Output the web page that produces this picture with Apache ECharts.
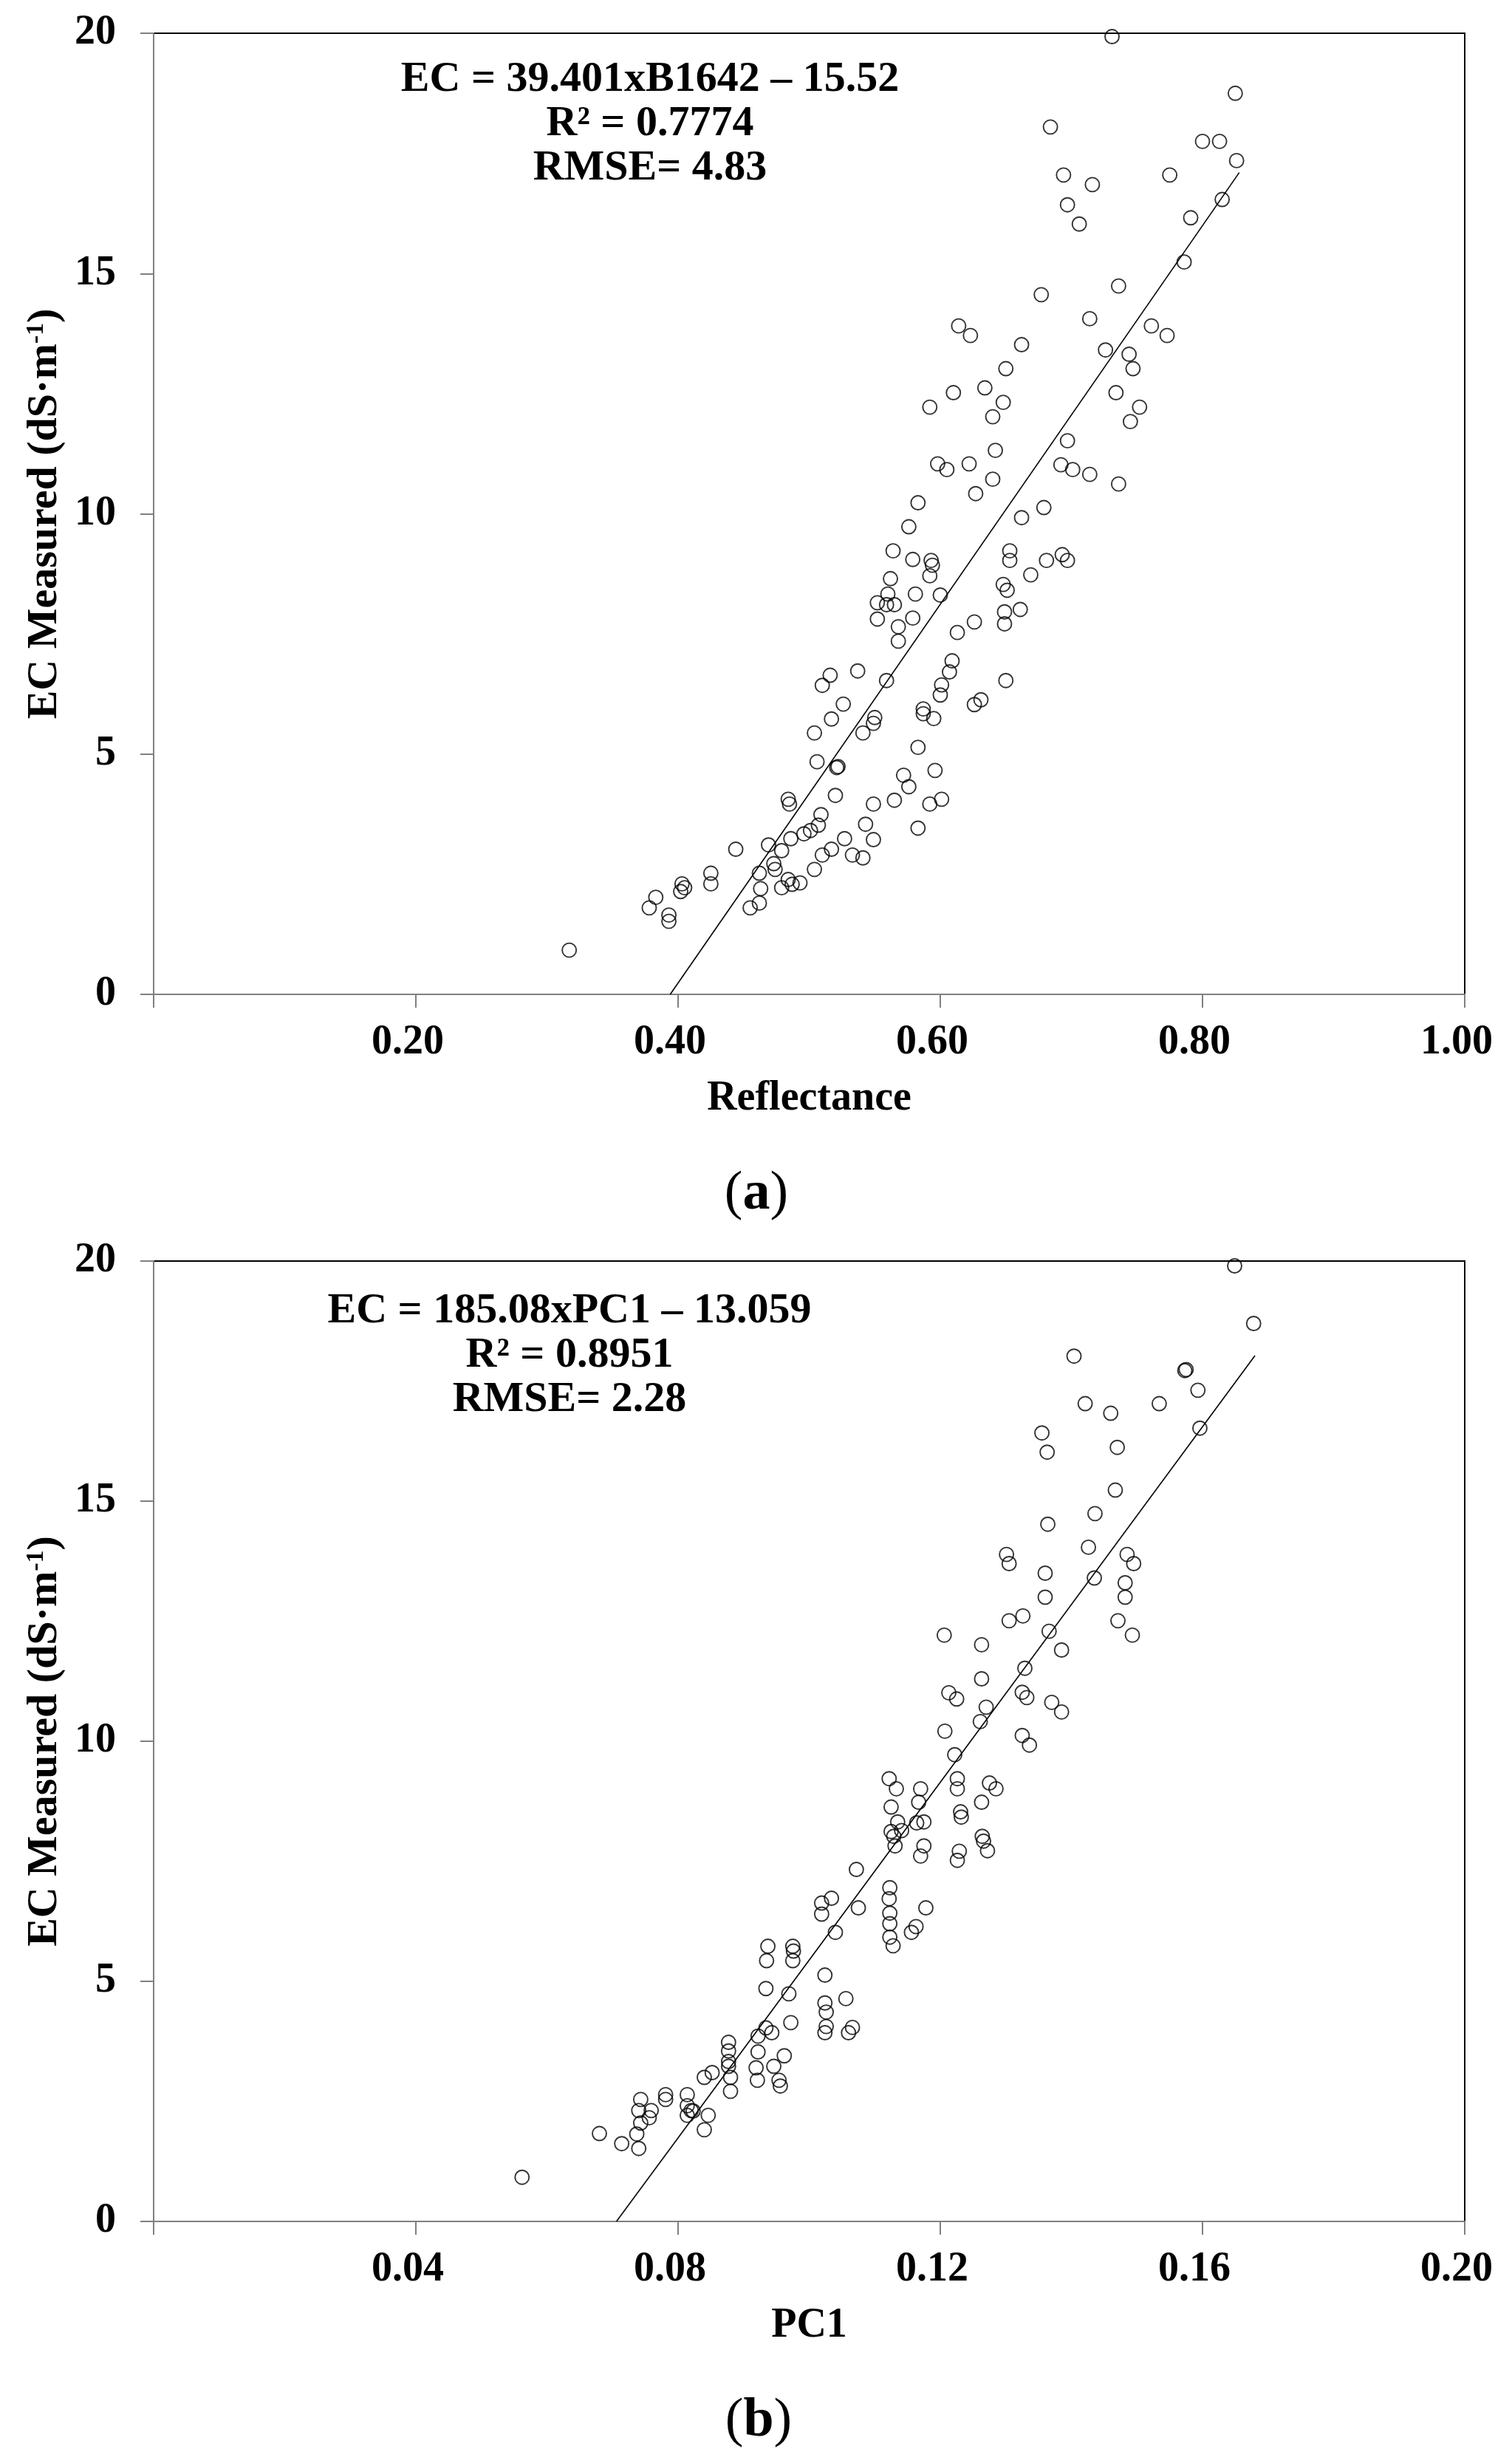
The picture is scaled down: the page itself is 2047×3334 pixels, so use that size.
<!DOCTYPE html>
<html>
<head>
<meta charset="utf-8">
<script src="https://cdn.jsdelivr.net/npm/echarts@6/dist/echarts.min.js"></script>
<style>
html,body{margin:0;padding:0;background:#fff;}
#chart{width:2047px;height:3334px;}
</style>
</head>
<body>
<div id="chart"></div>
<script>
// ---- Data (a): Reflectance (B1642) vs EC measured ----
const reflA = [0.317,0.378,0.383,0.393,0.393,0.402,0.403,0.405,0.425,0.425,0.444,0.455,0.462,0.462,0.463,0.469,0.473,0.474,0.479,0.479,
0.484,0.485,0.484,0.486,0.487,0.493,0.496,0.501,0.504,0.504,0.506,0.507,0.509,0.510,0.510,0.516,0.517,0.517,0.521,0.522,
0.520,0.526,0.527,0.533,0.537,0.541,0.541,0.543,0.549,0.550,0.549,0.549,0.552,0.552,0.559,0.559,0.560,0.562,0.564,0.565,
0.565,0.568,0.568,0.572,0.576,0.576,0.579,0.579,0.581,0.583,0.583,0.583,0.587,0.587,0.592,0.592,0.593,0.594,0.592,0.595,
0.596,0.598,0.600,0.600,0.601,0.601,0.605,0.607,0.609,0.610,0.613,0.614,0.622,0.623,0.626,0.626,0.627,0.631,0.634,0.640,
0.640,0.642,0.648,0.648,0.649,0.649,0.650,0.650,0.651,0.653,0.653,0.661,0.662,0.662,0.669,0.677,0.679,0.681,0.684,0.692,
0.693,0.694,0.697,0.697,0.697,0.701,0.706,0.714,0.714,0.716,0.726,0.731,0.734,0.736,0.736,0.744,0.745,0.747,0.752,0.761,
0.773,0.775,0.786,0.791,0.800,0.813,0.815,0.825,0.826];
const ecA = [0.92,1.80,2.02,1.65,1.52,2.14,2.30,2.22,2.52,2.30,3.02,1.80,1.90,2.52,2.20,3.11,2.72,2.60,2.22,2.99,
4.06,3.96,2.39,3.24,2.29,2.32,3.34,3.41,2.60,5.44,4.84,3.52,3.74,2.90,6.43,6.64,5.73,3.02,4.72,4.74,
4.14,6.04,3.24,2.90,6.73,5.44,2.84,3.54,3.96,5.76,5.64,3.22,8.15,7.81,8.11,6.53,8.33,8.65,9.23,8.11,
4.04,7.35,7.65,4.56,4.32,9.73,7.83,9.05,8.33,10.23,5.14,3.46,5.94,5.84,12.22,8.71,9.03,8.93,3.96,5.74,
4.66,11.04,8.31,6.23,6.44,4.06,10.92,6.71,6.94,12.52,7.53,13.91,11.04,13.71,6.03,7.75,10.42,6.13,12.62,12.02,
10.72,11.32,12.32,8.53,7.71,7.96,13.02,6.53,8.41,9.23,9.03,8.01,9.92,13.52,8.73,14.56,10.13,9.03,18.05,11.02,
9.15,17.05,11.52,9.03,16.43,10.92,16.03,14.06,10.82,16.85,13.41,19.93,12.52,10.62,14.74,13.32,11.92,13.02,12.22,13.91,
13.71,17.05,15.24,16.16,17.75,17.75,16.54,18.75,17.35];
const trendA = [[0.394, 0.0], [0.828, 17.10]];
const xTickLabelsA = ['', '0.20', '0.40', '0.60', '0.80', '1.00'];
const annotA = ['EC = 39.401xB1642 \u2013 15.52', 'R\u00b2 = 0.7774', 'RMSE= 4.83'];

// ---- Data (b): PC1 vs EC measured ----
const pc1B = [0.0562,0.0680,0.0714,0.0740,0.0737,0.0743,0.0740,0.0743,0.0756,0.0759,0.0781,0.0781,0.0814,0.0814,0.0814,0.0820,0.0823,0.0840,0.0840,0.0846,
0.0852,0.0877,0.0877,0.0877,0.0877,0.0880,0.0880,0.0922,0.0922,0.0919,0.0921,0.0934,0.0934,0.0935,0.0937,0.0943,0.0946,0.0954,0.0956,0.0962,
0.0969,0.0972,0.0975,0.0975,0.0976,0.1019,0.1019,0.1024,0.1024,0.1026,0.1024,0.1026,0.1034,0.1040,0.1056,0.1060,0.1066,0.1072,0.1075,0.1122,
0.1123,0.1122,0.1123,0.1123,0.1123,0.1128,0.1125,0.1125,0.1129,0.1131,0.1133,0.1135,0.1141,0.1156,0.1163,0.1164,0.1167,0.1170,0.1170,0.1175,
0.1175,0.1178,0.1206,0.1207,0.1213,0.1222,0.1225,0.1226,0.1226,0.1226,0.1229,0.1231,0.1232,0.1263,0.1263,0.1261,0.1263,0.1264,0.1266,0.1270,
0.1272,0.1275,0.1285,0.1301,0.1305,0.1305,0.1325,0.1326,0.1329,0.1325,0.1332,0.1336,0.1355,0.1360,0.1360,0.1363,0.1364,0.1366,0.1370,0.1385,
0.1385,0.1404,0.1421,0.1426,0.1435,0.1436,0.1460,0.1467,0.1470,0.1471,0.1482,0.1482,0.1485,0.1495,0.1493,0.1534,0.1573,0.1575,0.1593,0.1596,
0.1649,0.1678];
const ecB = [0.92,1.83,1.62,1.52,1.82,2.05,2.31,2.54,2.16,2.31,2.54,2.64,2.64,2.41,2.21,2.31,2.30,3.00,1.91,2.21,
3.10,3.73,3.55,3.33,3.23,3.00,2.71,3.86,3.53,3.20,2.94,4.03,4.85,5.43,5.73,3.93,3.23,2.94,2.82,3.45,
4.74,4.14,5.43,5.73,5.63,6.63,6.40,5.13,4.55,4.36,3.93,4.06,6.73,6.02,4.64,3.93,4.04,7.33,6.53,9.22,
6.95,6.72,6.42,6.20,5.92,5.74,8.63,8.12,8.02,7.82,9.01,8.32,8.14,6.02,6.14,8.30,8.73,9.01,7.61,7.82,
8.32,6.53,12.21,10.21,11.01,9.72,10.88,9.22,9.01,7.52,7.71,8.53,8.42,12.01,11.30,10.41,8.73,8.02,7.92,10.71,
7.72,9.13,9.01,13.89,13.70,12.51,10.12,12.61,11.52,11.02,10.91,9.92,16.42,13.50,13.00,16.02,14.52,12.29,10.81,11.90,
10.61,18.02,17.03,14.04,13.40,14.74,16.83,15.23,16.12,12.51,13.00,13.30,13.89,13.70,12.21,17.03,17.72,17.74,17.31,16.52,
19.90,18.70];
const trendB = [[0.0706, 0.0], [0.1680, 18.03]];
const xTickLabelsB = ['', '0.04', '0.08', '0.12', '0.16', '0.20'];
const annotB = ['EC = 185.08xPC1 \u2013 13.059', 'R\u00b2 = 0.8951', 'RMSE= 2.28'];

const yTickLabels = ['0', '5', '10', '15', '20'];

// ---- Chart ----
const FONT = '"Liberation Serif", "Times New Roman", serif';
const chart = echarts.init(document.getElementById('chart'), null, {renderer: 'canvas'});

const gridA = {left: 208, top: 45, width: 1775, height: 1301};
const gridB = {left: 208, top: 1707, width: 1775, height: 1300};

function xAxisCfg(gi, max, interval, labels, name) {
  return {
    type: 'value', gridIndex: gi, min: 0, max: max, interval: interval,
    name: name, nameLocation: 'middle', nameGap: 114,
    nameTextStyle: {fontFamily: FONT, fontWeight: 'bold', fontSize: 56, lineHeight: 56, color: '#000'},
    axisLine: {show: true, onZero: false, lineStyle: {color: '#808080', width: 2}},
    axisTick: {show: true, inside: false, length: 18, lineStyle: {color: '#808080', width: 2}},
    splitLine: {show: false},
    axisLabel: {
      margin: 38, fontFamily: FONT, fontWeight: 'bold', fontSize: 56, lineHeight: 56, color: '#000',
      padding: [0, 22, 0, 0],
      formatter: function (v) { return labels[Math.round(v / interval)] || ''; }
    }
  };
}
function yAxisCfg(gi) {
  return {
    type: 'value', gridIndex: gi, min: 0, max: 20, interval: 5,
    name: '{t|EC Measured (dS\u00b7m}{s|-1}{t|)}', nameLocation: 'middle', nameGap: 112,
    nameTextStyle: {
      fontFamily: FONT, fontWeight: 'bold', fontSize: 58, lineHeight: 58, color: '#000',
      rich: {
        t: {fontFamily: FONT, fontWeight: 'bold', fontSize: 58, lineHeight: 58, color: '#000'},
        s: {fontFamily: FONT, fontWeight: 'bold', fontSize: 34, lineHeight: 30, verticalAlign: 'top', color: '#000'}
      }
    },
    axisLine: {show: true, onZero: false, lineStyle: {color: '#808080', width: 2}},
    axisTick: {show: true, inside: false, length: 18, lineStyle: {color: '#808080', width: 2}},
    splitLine: {show: false},
    axisLabel: {
      margin: 51, fontFamily: FONT, fontWeight: 'bold', fontSize: 56, color: '#000',
      formatter: function (v) { return yTickLabels[Math.round(v / 5)]; }
    }
  };
}

function scatterSeries(xi, xs, ys) {
  return {
    type: 'scatter', xAxisIndex: xi, yAxisIndex: xi,
    data: xs.map(function (x, i) { return [x, ys[i]]; }),
    symbol: 'circle', symbolSize: 19,
    itemStyle: {color: 'rgba(0,0,0,0)', borderColor: '#000', borderWidth: 1.9},
    emphasis: {disabled: true}, z: 3
  };
}
function trendSeries(xi, pts) {
  return {
    type: 'line', xAxisIndex: xi, yAxisIndex: xi, data: pts,
    symbol: 'none', lineStyle: {color: '#000', width: 1.6}, z: 2, silent: true
  };
}

function textEl(lines, cx, cy) {
  return {
    type: 'text', x: cx, y: cy, z: 10,
    style: {
      text: lines.join('\n'), align: 'center', verticalAlign: 'middle',
      fontFamily: FONT, fontWeight: 'bold', fontSize: 58, lineHeight: 60, fill: '#000'
    }
  };
}
function panelLabel(letter, cx, cy) {
  return {
    type: 'text', x: cx, y: cy, z: 10,
    style: {
      text: '{n|(}{b|' + letter + '}{n|)}', align: 'center', verticalAlign: 'middle',
      rich: {
        n: {fontFamily: FONT, fontWeight: 'normal', fontSize: 74, lineHeight: 80, fill: '#000'},
        b: {fontFamily: FONT, fontWeight: 'bold', fontSize: 74, lineHeight: 80, fill: '#000'}
      }
    }
  };
}

chart.setOption({
  animation: false,
  backgroundColor: '#fff',
  grid: [
    Object.assign({show: true, borderColor: '#000', borderWidth: 2, backgroundColor: 'transparent'}, gridA),
    Object.assign({show: true, borderColor: '#000', borderWidth: 2, backgroundColor: 'transparent'}, gridB)
  ],
  xAxis: [
    xAxisCfg(0, 1.0, 0.2, xTickLabelsA, 'Reflectance'),
    xAxisCfg(1, 0.2, 0.04, xTickLabelsB, 'PC1')
  ],
  yAxis: [yAxisCfg(0), yAxisCfg(1)],
  series: [
    trendSeries(0, trendA),
    scatterSeries(0, reflA, ecA),
    trendSeries(1, trendB),
    scatterSeries(1, pc1B, ecB)
  ],
  graphic: [
    textEl(annotA, 880, 168),
    textEl(annotB, 771, 1835),
    panelLabel('a', 1024, 1617),
    panelLabel('b', 1027, 3278)
  ]
});
</script>
</body>
</html>
